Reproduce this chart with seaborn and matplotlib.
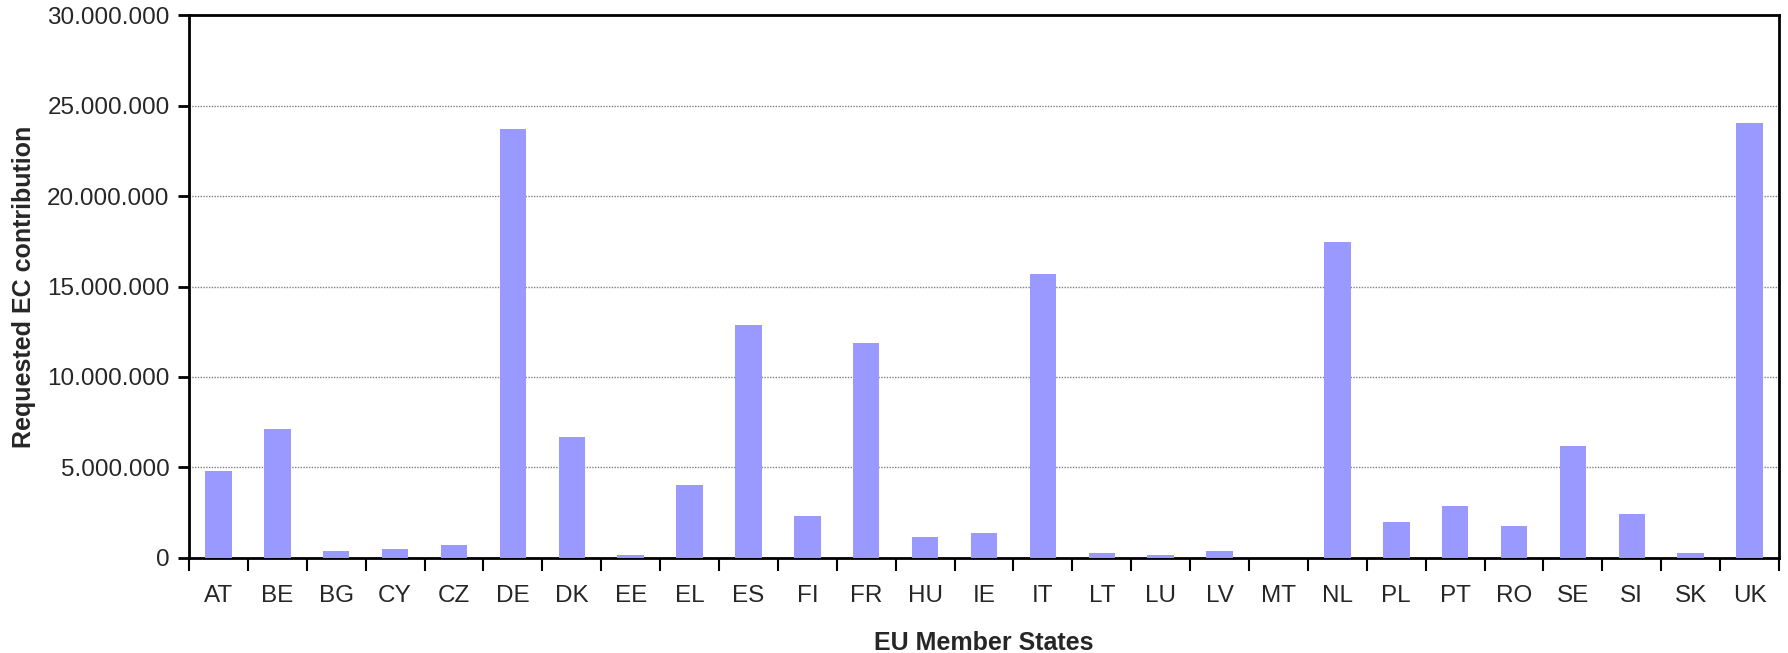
import matplotlib
matplotlib.use('Agg')
import matplotlib.pyplot as plt
import matplotlib.ticker as mticker
import seaborn as sns
import pandas as pd
import numpy as np

countries = ['AT', 'BE', 'BG', 'CY', 'CZ', 'DE', 'DK', 'EE', 'EL', 'ES', 'FI', 'FR', 'HU', 'IE',
             'IT', 'LT', 'LU', 'LV', 'MT', 'NL', 'PL', 'PT', 'RO', 'SE', 'SI', 'SK', 'UK']
contribution = [4800000, 7130000, 370000, 460000, 680000, 23730000, 6700000, 120000, 4040000,
                12850000, 2280000, 11850000, 1120000, 1340000, 15720000, 240000, 130000, 350000,
                0, 17490000, 1990000, 2870000, 1760000, 6160000, 2430000, 240000, 24060000]

df = pd.DataFrame({'Country': countries, 'Contribution': contribution})

sns.set_style('white')
plt.rcParams['font.family'] = ['Liberation Sans', 'DejaVu Sans']

fig = plt.figure(figsize=(17.88, 6.53), dpi=100)
ax = fig.add_axes([0.1057, 0.146, 0.995 - 0.1057, 0.9763 - 0.146])

sns.barplot(data=df, x='Country', y='Contribution', color='#9999FF', saturation=1,
            width=0.45, linewidth=0, edgecolor='none', ax=ax, zorder=3)

ax.set_ylim(0, 30000000)
ax.set_xlim(-0.5, len(countries) - 0.5)
ax.yaxis.set_major_locator(mticker.MultipleLocator(5000000))
ax.yaxis.set_major_formatter(mticker.FuncFormatter(lambda v, p: f'{int(v):,}'.replace(',', '.')))
ax.grid(axis='y', color='#808080', linestyle=(0, (1, 1)), linewidth=1, zorder=0)

for s in ax.spines.values():
    s.set_visible(True)
    s.set_color('black')
    s.set_linewidth(2)

ax.tick_params(axis='y', which='major', left=True, length=8, width=2, labelsize=17.5, pad=6, color='black')
ax.tick_params(axis='x', which='major', bottom=False, length=0, labelsize=17.5, pad=20)
ax.xaxis.set_minor_locator(mticker.FixedLocator(np.arange(-0.5, len(countries), 1)))
ax.tick_params(axis='x', which='minor', bottom=True, length=9, width=1.5, color='black')

ax.set_xlabel('EU Member States', fontsize=18, fontweight='bold', labelpad=17)
ax.set_ylabel('Requested EC contribution', fontsize=18, fontweight='bold', labelpad=8)

fig.savefig('out.png', dpi=100)
